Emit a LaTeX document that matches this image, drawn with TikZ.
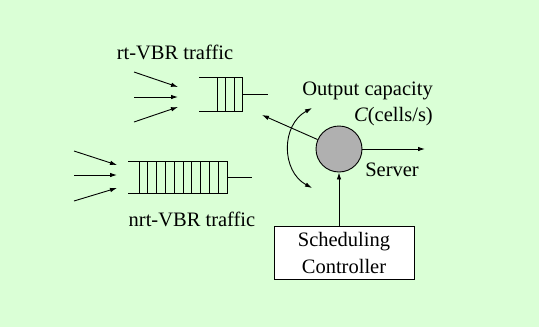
\documentclass[tikz,border=0pt]{standalone}
\usepackage{fontspec}
\setmainfont{Liberation Serif}
\usetikzlibrary{arrows.meta}
\definecolor{bggreen}{RGB}{218,255,214}
\definecolor{srvgray}{RGB}{176,176,176}
\begin{document}
\begin{tikzpicture}[x=1pt,y=-1pt,
  lbl/.style={font=\fontsize{20.5}{26}\selectfont, inner sep=0pt},
  ln/.style={line width=0.9pt},
  arr/.style={line width=0.9pt, -{Latex[length=7pt,width=4.5pt]}},
  darr/.style={line width=0.9pt, {Latex[length=7pt,width=4.5pt]}-{Latex[length=7pt,width=4.5pt]}}]
  \fill[bggreen] (0,0) rectangle (539,327);
  \useasboundingbox (0,0) rectangle (539,327);

  % labels
  \node[lbl] (rtlbl) at (175,52) {rt-VBR traffic};
  \node[lbl] (nrtlbl) at (192,219) {nrt-VBR traffic};
  \node[lbl, align=right, anchor=east] (caplbl) at (433,104) {Output capacity\\\textit{C}(cells/s)};
  \node[lbl] (srvlbl) at (392,170) {Server};

  % rt queue
  \coordinate (rtin) at (199,94);
  \draw[ln] (199,77) -- (242,77) -- (242,111) -- (199,111);
  \foreach \x in {217,225.5,234} \draw[ln] (\x,77) -- (\x,111);
  \coordinate (rtout) at (242,94);
  \coordinate (rtend) at (268,94);
  \draw[ln] (rtout) -- (rtend);

  % nrt queue
  \draw[ln] (128,161) -- (227,161) -- (227,193) -- (128,193);
  \foreach \k in {0,...,9} \draw[ln] ({139+\k*8.8},161) -- ({139+\k*8.8},193);
  \coordinate (nrtout) at (227,177);
  \coordinate (nrtend) at (252,177);
  \draw[ln] (nrtout) -- (nrtend);

  % rt input arrows
  \coordinate (a1s) at (134,72);  \coordinate (a1e) at (178,87);
  \coordinate (a2s) at (134,97);  \coordinate (a2e) at (178,97);
  \coordinate (a3s) at (134,122); \coordinate (a3e) at (178,107);
  \draw[arr] (a1s) -- (a1e);
  \draw[arr] (a2s) -- (a2e);
  \draw[arr] (a3s) -- (a3e);

  % nrt input arrows
  \coordinate (b1s) at (74,151);  \coordinate (b1e) at (117,165);
  \coordinate (b2s) at (74,175);  \coordinate (b2e) at (117,175);
  \coordinate (b3s) at (74,201);  \coordinate (b3e) at (117,188);
  \draw[arr] (b1s) -- (b1e);
  \draw[arr] (b2s) -- (b2e);
  \draw[arr] (b3s) -- (b3e);

  % server
  \node[circle, draw, line width=0.9pt, fill=srvgray, minimum size=46pt, inner sep=0pt] (srv) at (339,149) {};
  \coordinate (ptr) at (262,115);
  \draw[arr] (srv) -- (ptr);
  \coordinate (srvout) at (425,149);
  \draw[arr] (srv.east) -- (srvout);

  % rotating double arrow
  \coordinate (rtop) at (312,108);
  \coordinate (rbot) at (312,188);
  \draw[darr] (rtop) .. controls (281,125) and (281,171) .. (rbot);

  % controller
  \node[draw, fill=white, line width=0.9pt, minimum width=140pt, minimum height=53pt,
        align=center, font=\fontsize{20.5}{27}\selectfont, inner sep=0pt] (ctrl) at (344,252.5) {Scheduling\\Controller};
  \draw[arr] (srv.south |- ctrl.north) -- (srv.south);
\end{tikzpicture}
\end{document}
